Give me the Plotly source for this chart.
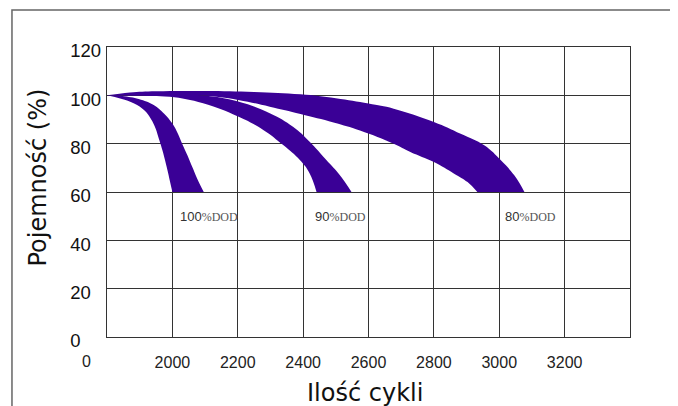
import plotly.graph_objects as go

# ---- data ----
cycle_tickvals = [2000, 2200, 2400, 2600, 2800, 3000, 3200]
cycle_ticktext = ["2000", "2200", "2400", "2600", "2800", "3000", "3200"]
capacity_tickvals = [0, 20, 40, 60, 80, 100, 120]
capacity_ticktext = ["0", "20", "40", "60", "80", "100", "120"]

dod100_low_x = [1800, 1843, 1883, 1914, 1934, 1949, 1957, 1965, 1975, 1985, 1992, 2000]
dod100_low_y = [100, 98.6, 96.6, 93.8, 90.3, 86.2, 82.8, 79.3, 74.5, 69.0, 64.8, 60]
dod100_up_x = [1800, 1853, 1904, 1944, 1975, 2000, 2017, 2030, 2046, 2061, 2076, 2096]
dod100_up_y = [100, 99.6, 98.2, 95.9, 92.4, 88.3, 84.1, 80.0, 75.2, 70.3, 65.5, 60]

dod90_low_x = [1800, 1900, 1992, 2094, 2201, 2278, 2339, 2390, 2420, 2441]
dod90_low_y = [100, 99.8, 99.4, 96.7, 91.2, 85.7, 79.4, 73.2, 67.7, 60]
dod90_up_x = [1800, 1950, 2094, 2201, 2298, 2369, 2420, 2471, 2512, 2548]
dod90_up_y = [100, 100.4, 99.9, 97.4, 92.6, 87.0, 80.8, 73.2, 67.0, 60]

dod80_low_x = [1800, 2000, 2094, 2201, 2298, 2392, 2493, 2574, 2677, 2728, 2800, 2862, 2903, 2933]
dod80_low_y = [100, 100.1, 99.9, 98.1, 95.3, 92.3, 88.8, 85.5, 80.0, 76.6, 72.4, 67.6, 64.1, 60]
dod80_up_x = [1800, 1870, 1950, 2100, 2250, 2392, 2500, 2600, 2677, 2800, 2882, 2954, 3005, 3046, 3077]
dod80_up_y = [100, 101.2, 101.7, 101.8, 101.4, 100.4, 98.8, 96.6, 94.5, 89.0, 84.1, 79.3, 73.1, 66.9, 60]

label_numbers = ["100", "90", "80"]
label_suffix = "%DOD"
label_x = [2017, 2429, 3012]
label_y = [50, 50, 50]

x_title = "Ilość cykli"
y_title = "Pojemność (%)"

FILL = "#3a0096"

fig = go.Figure()
bands = [
    (dod100_low_x, dod100_low_y, dod100_up_x, dod100_up_y),
    (dod90_low_x, dod90_low_y, dod90_up_x, dod90_up_y),
    (dod80_low_x, dod80_low_y, dod80_up_x, dod80_up_y),
]
for lx, ly, ux, uy in bands:
    fig.add_trace(go.Scatter(x=lx, y=ly, mode="lines",
                             line=dict(color=FILL, width=0, shape="spline", smoothing=1.2),
                             hoverinfo="skip", showlegend=False))
    fig.add_trace(go.Scatter(x=ux, y=uy, mode="lines", fill="tonexty", fillcolor=FILL,
                             line=dict(color=FILL, width=0, shape="spline", smoothing=1.2),
                             hoverinfo="skip", showlegend=False))

NB = "\u00a0"
ytext = [t + NB * (2 * (3 - len(t))) for t in capacity_ticktext]

XFONT = "Liberation Sans Narrow, Arial Narrow, Liberation Sans, Arial"

fig.update_layout(
    width=670, height=398,
    margin=dict(l=99, r=48, t=39, b=69),
    paper_bgcolor="white", plot_bgcolor="white",
    showlegend=False,
    xaxis=dict(range=[1800, 3400], tickvals=cycle_tickvals, ticktext=cycle_ticktext,
               showgrid=True, gridcolor="#333", gridwidth=1.3,
               showline=True, linecolor="#333", linewidth=1.3, mirror=True,
               zeroline=False, ticks="", ticklabelstandoff=11,
               tickfont=dict(family=XFONT, size=16, color="#222")),
    yaxis=dict(range=[0, 120], tickvals=capacity_tickvals, ticktext=ytext,
               showgrid=True, gridcolor="#333", gridwidth=1.3,
               showline=True, linecolor="#333", linewidth=1.3, mirror=True,
               zeroline=False, ticks="", ticklabelstandoff=1, ticklabelshift=4,
               tickfont=dict(family="Liberation Sans, Arial", size=18.5, color="#111")),
)

# axis titles
fig.add_annotation(text=x_title, xref="paper", yref="paper", x=0.4933, y=-0.193,
                   xanchor="center", yanchor="middle", showarrow=False,
                   font=dict(family="DejaVu Sans", size=24, color="#111"))
fig.add_annotation(text=y_title, xref="paper", yref="paper", x=-0.1338, y=0.55,
                   xanchor="center", yanchor="middle", showarrow=False, textangle=-90,
                   font=dict(family="DejaVu Sans", size=24, color="#111"))
# x origin label
fig.add_annotation(text="0", xref="paper", yref="paper", x=-0.0394, y=-0.0862,
                   xanchor="center", yanchor="middle", showarrow=False,
                   font=dict(family=XFONT, size=16, color="#222"))

# DOD labels
for num, xv, yv in zip(label_numbers, label_x, label_y):
    txt = (num + "<span style='font-family:Liberation Serif, DejaVu Serif, serif;"
           "font-size:12px;color:#555'>" + label_suffix + "</span>")
    fig.add_annotation(text=txt, x=xv, y=yv, xref="x", yref="y",
                       xanchor="left", yanchor="middle", showarrow=False,
                       font=dict(family="Liberation Sans, Arial", size=13, color="#333"))

# outer frame
fig.add_shape(type="rect", xref="paper", yref="paper",
              x0=-0.1817, x1=1.0817, y0=-0.3, y1=1.128,
              line=dict(color="#666", width=1.5), fillcolor="rgba(0,0,0,0)", layer="below")

fig.write_html("out.html")
